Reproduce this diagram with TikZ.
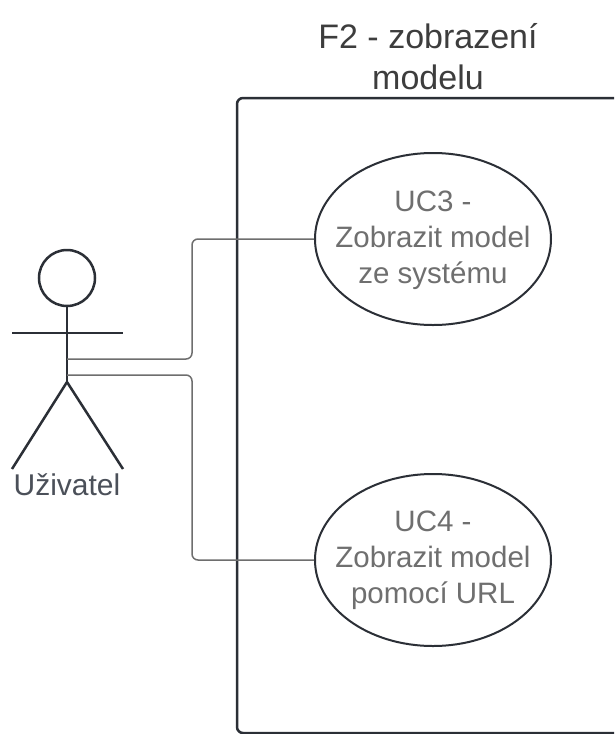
\documentclass[tikz,border=0pt]{standalone}
\usepackage{fontspec}
\setmainfont{Liberation Sans}
\usetikzlibrary{shapes.geometric}
\definecolor{ink}{HTML}{2B2F36}
\definecolor{wire}{HTML}{6E6E6E}
\definecolor{uctext}{HTML}{6F6F6F}
\definecolor{titletext}{HTML}{3D3D3D}
\definecolor{actortext}{HTML}{4B5059}
\tikzset{
  usecase/.style={ellipse, draw=ink, line width=2pt, minimum width=236pt,
    minimum height=172pt, inner sep=0pt},
  uclabel/.style={align=center, text=uctext, inner sep=0pt,
    font=\fontsize{29.5}{36}\selectfont},
  boundary/.style={draw=ink, line width=2.5pt, rounded corners=6pt},
  actorline/.style={draw=ink, line width=2.5pt},
  link/.style={draw=wire, line width=1.5pt, rounded corners=6pt},
}
\begin{document}
\begin{tikzpicture}[x=1pt, y=-1pt]
  \clip (0,0) rectangle (614,734);
  \fill[white] (0,0) rectangle (614,734);

  % system boundary, open to the right
  \draw[boundary] (640,98) -- (237,98) -- (237,733) -- (640,733);
  \node[text=titletext, align=center, font=\fontsize{34}{41}\selectfont]
    (title) at (428,57) {F2 - zobrazení\\modelu};

  % use cases
  \node[usecase] (uc3) at (433,239) {};
  \node[uclabel] (uc3text) at (433,240) {UC3 -\\Zobrazit model\\ze systému};
  \node[usecase] (uc4) at (433,560) {};
  \node[uclabel] (uc4text) at (uc4.center) {UC4 -\\Zobrazit model\\pomocí URL};

  % actor
  \node[circle, draw=ink, line width=2.5pt, minimum size=56pt, inner sep=0pt]
    (head) at (67,278) {};
  \coordinate (hip) at (67,382);
  \coordinate (lfoot) at (12,469);
  \coordinate (rfoot) at (123,469);
  \coordinate (larm) at (12,333);
  \coordinate (rarm) at (123,333);
  \draw[actorline] (head.south) -- (hip);
  \draw[actorline] (larm) -- (rarm);
  \draw[actorline, line join=round] (lfoot) -- (hip) -- (rfoot);
  \node[text=actortext, font=\fontsize{30}{36}\selectfont, anchor=base]
    (actor) at (67,495) {Uživatel};

  % associations (routed from the use case back to the actor's body)
  \coordinate (a1) at (67,359);
  \coordinate (a2) at (67,375);
  \draw[link] (uc3.west) -| (192,359) -- (a1);
  \draw[link] (uc4.west) -| (192,375) -- (a2);
\end{tikzpicture}
\end{document}
